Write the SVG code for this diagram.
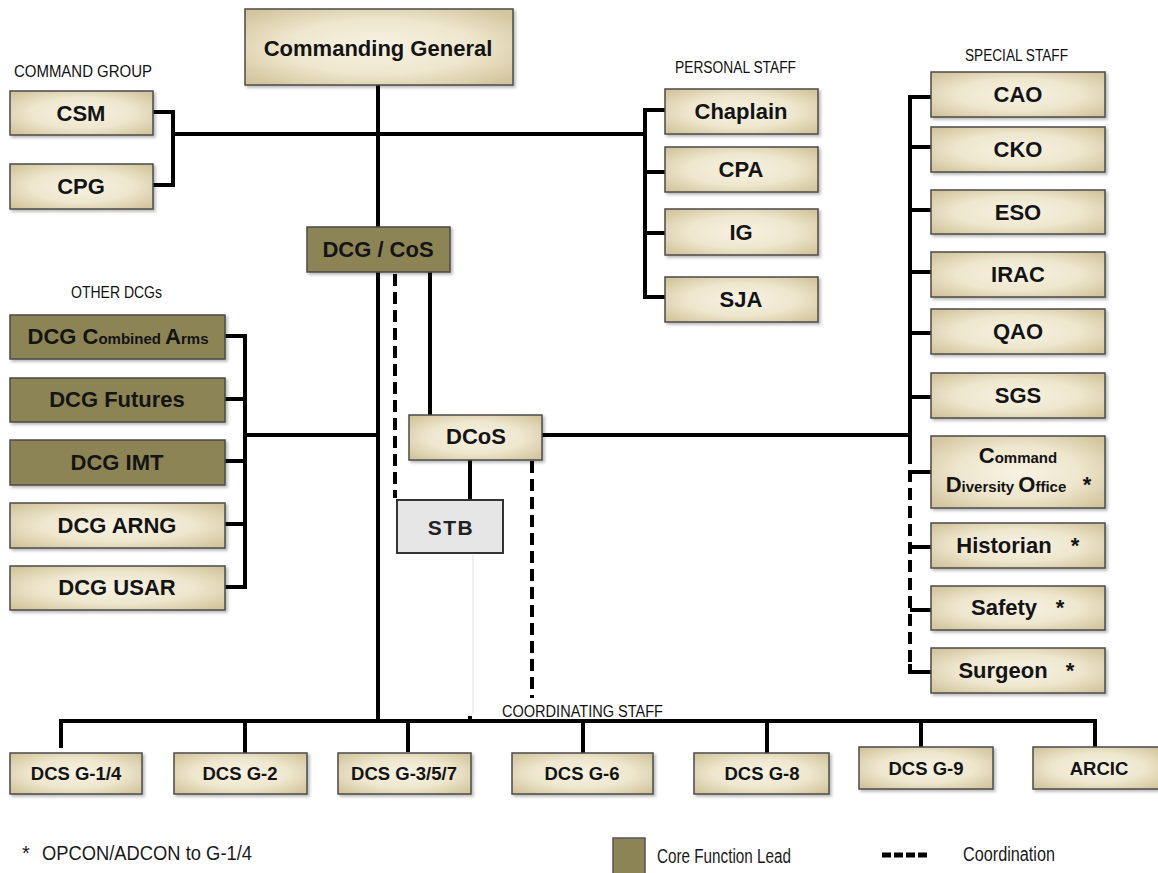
<svg xmlns="http://www.w3.org/2000/svg" width="1158" height="873" viewBox="0 0 1158 873">
<defs>
<radialGradient id="beige" cx="50%" cy="50%" r="65%">
<stop offset="0" stop-color="#f7f2e3"/>
<stop offset="0.55" stop-color="#eee6cd"/>
<stop offset="1" stop-color="#d3c59d"/>
</radialGradient>
<filter id="sh" x="-5%" y="-10%" width="115%" height="135%">
<feDropShadow dx="2" dy="2" stdDeviation="1.5" flood-color="#000" flood-opacity="0.28"/>
</filter>
<style>
.b{fill:url(#beige);stroke:#4a4a4a;stroke-width:1.5;filter:url(#sh)}
.o{fill:#8c8455;stroke:#4a4a4a;stroke-width:1.5;filter:url(#sh)}
.g{fill:#e6e6e6;stroke:#333;stroke-width:2}
.t{font-family:"Liberation Sans",Arial,sans-serif;font-weight:bold;font-size:22px;fill:#141414;text-anchor:middle}
.sm{font-size:15px}
.d{font-family:"Liberation Sans",Arial,sans-serif;font-weight:bold;font-size:18.5px;fill:#141414;text-anchor:middle}
.h{font-family:"Liberation Sans Narrow","Liberation Sans",Arial,sans-serif;font-size:16px;fill:#111}
.l{font-family:"Liberation Sans Narrow","Liberation Sans",Arial,sans-serif;font-size:20px;fill:#1a1a1a}
.c{fill:none;stroke:#000;stroke-width:4;stroke-linejoin:miter}
.dash{fill:none;stroke:#000;stroke-width:4;stroke-dasharray:12 6}
</style>
</defs>
<rect width="1158" height="873" fill="#fff"/>

<g id="labels">
<text class="h" x="14" y="77" textLength="138" lengthAdjust="spacingAndGlyphs">COMMAND GROUP</text>
<text class="h" x="675" y="73" textLength="121" lengthAdjust="spacingAndGlyphs">PERSONAL STAFF</text>
<text class="h" x="965" y="61" textLength="103" lengthAdjust="spacingAndGlyphs">SPECIAL STAFF</text>
<text class="h" x="71" y="298" textLength="91" lengthAdjust="spacingAndGlyphs">OTHER DCGs</text>
<text class="h" x="502" y="717" textLength="161" lengthAdjust="spacingAndGlyphs">COORDINATING STAFF</text>
</g>

<g id="connectors">
<path class="c" d="M378,85 V721"/>
<path class="c" d="M153,112 H173 V185 H153"/>
<path class="c" d="M173,134 H645"/>
<path class="c" d="M665,110 H645 V297 H665 M645,172 H665 M645,233 H665"/>
<path class="c" d="M931,97 H910 V452 M910,147 H931 M910,210 H931 M910,272 H931 M910,333 H931 M910,397 H931"/>
<path class="dash" d="M910,452 V664"/>
<path class="c" d="M910,664 V672 H931"/>
<path class="c" d="M910,472 H931 M910,547 H931 M910,610 H931"/>
<path class="c" d="M542,435 H910"/>
<path class="c" d="M245,435 H378"/>
<path class="c" d="M225,336 H245 V587 H225 M225,399 H245 M225,461 H245 M225,524 H245"/>
<path class="c" d="M430,272 V415"/>
<path class="dash" d="M395,274 V498"/>
<path class="c" d="M470,460 V500"/>
<path class="dash" d="M532,461 V698"/>
<path d="M473,555 V714" fill="none" stroke="#ececec" stroke-width="1.5"/>
<path class="c" d="M470,716 V721"/>
<path class="c" d="M61,748 V721 H1095 V748 M245,721 V758 M408,721 V752 M583,721 V753 M767,721 V753 M921,721 V747"/>
</g>

<g id="cg"><rect class="b" x="245" y="9" width="268" height="76"/><text class="t" x="378" y="56">Commanding General</text></g>
<g id="csm"><rect class="b" x="10" y="91" width="143" height="44"/><text class="t" x="81" y="121">CSM</text></g>
<g id="cpg"><rect class="b" x="10" y="164" width="143" height="45"/><text class="t" x="81" y="194">CPG</text></g>

<g id="chaplain"><rect class="b" x="665" y="89" width="153" height="45"/><text class="t" x="741" y="119">Chaplain</text></g>
<g id="cpa"><rect class="b" x="665" y="147" width="153" height="45"/><text class="t" x="741" y="177">CPA</text></g>
<g id="ig"><rect class="b" x="665" y="209" width="153" height="46"/><text class="t" x="741" y="240">IG</text></g>
<g id="sja"><rect class="b" x="665" y="277" width="153" height="45"/><text class="t" x="741" y="307">SJA</text></g>

<g id="cao"><rect class="b" x="931" y="72" width="174" height="45"/><text class="t" x="1018" y="102">CAO</text></g>
<g id="cko"><rect class="b" x="931" y="127" width="174" height="45"/><text class="t" x="1018" y="157">CKO</text></g>
<g id="eso"><rect class="b" x="931" y="190" width="174" height="44"/><text class="t" x="1018" y="220">ESO</text></g>
<g id="irac"><rect class="b" x="931" y="252" width="174" height="45"/><text class="t" x="1018" y="282">IRAC</text></g>
<g id="qao"><rect class="b" x="931" y="309" width="174" height="45"/><text class="t" x="1018" y="339">QAO</text></g>
<g id="sgs"><rect class="b" x="931" y="373" width="174" height="45"/><text class="t" x="1018" y="403">SGS</text></g>
<g id="cdo"><rect class="b" x="931" y="436" width="174" height="72"/>
<text class="t" x="1018" y="463">C<tspan class="sm">ommand</tspan></text>
<text class="t" x="1006" y="492">D<tspan class="sm">iversity </tspan>O<tspan class="sm">ffice</tspan></text>
<text class="t" x="1087" y="492">*</text></g>
<g id="historian"><rect class="b" x="931" y="523" width="174" height="45"/><text class="t" x="1004" y="553">Historian</text><text class="t" x="1075" y="553">*</text></g>
<g id="safety"><rect class="b" x="931" y="586" width="174" height="44"/><text class="t" x="1004" y="615">Safety</text><text class="t" x="1060" y="615">*</text></g>
<g id="surgeon"><rect class="b" x="931" y="648" width="174" height="45"/><text class="t" x="1003" y="678">Surgeon</text><text class="t" x="1070" y="678">*</text></g>

<g id="dcgcos"><rect class="o" x="307" y="227" width="143" height="45"/><text class="t" x="378" y="257">DCG / CoS</text></g>
<g id="dcos"><rect class="b" x="409" y="415" width="133" height="45"/><text class="t" x="476" y="444">DCoS</text></g>
<g id="stb"><rect class="g" x="397" y="500" width="106" height="53"/><text class="t" x="451" y="535" style="font-size:21px;letter-spacing:1.5px;fill:#222">STB</text></g>

<g id="dcg-ca"><rect class="o" x="10" y="315" width="215" height="44"/><text class="t" x="118" y="344">DCG C<tspan class="sm">ombined </tspan>A<tspan class="sm">rms</tspan></text></g>
<g id="dcg-futures"><rect class="o" x="10" y="378" width="215" height="44"/><text class="t" x="117" y="407">DCG Futures</text></g>
<g id="dcg-imt"><rect class="o" x="10" y="440" width="215" height="45"/><text class="t" x="117" y="470">DCG IMT</text></g>
<g id="dcg-arng"><rect class="b" x="10" y="503" width="215" height="45"/><text class="t" x="117" y="533">DCG ARNG</text></g>
<g id="dcg-usar"><rect class="b" x="10" y="566" width="215" height="44"/><text class="t" x="117" y="595">DCG USAR</text></g>

<g id="g14"><rect class="b" x="10" y="753" width="132" height="41"/><text class="d" x="76" y="780">DCS G-1/4</text></g>
<g id="g2"><rect class="b" x="174" y="753" width="133" height="41"/><text class="d" x="240" y="780">DCS G-2</text></g>
<g id="g357"><rect class="b" x="338" y="753" width="133" height="41"/><text class="d" x="404" y="780">DCS G-3/5/7</text></g>
<g id="g6"><rect class="b" x="512" y="753" width="141" height="41"/><text class="d" x="582" y="780">DCS G-6</text></g>
<g id="g8"><rect class="b" x="694" y="753" width="135" height="41"/><text class="d" x="762" y="780">DCS G-8</text></g>
<g id="g9"><rect class="b" x="859" y="747" width="134" height="42"/><text class="d" x="926" y="775">DCS G-9</text></g>
<g id="arcic"><rect class="b" x="1033" y="747" width="130" height="42"/><text class="d" x="1099" y="775">ARCIC</text></g>

<g id="legend">
<text class="l" x="22" y="860">*</text>
<text class="l" x="42" y="860" textLength="210" lengthAdjust="spacingAndGlyphs">OPCON/ADCON to G-1/4</text>
<rect x="613" y="838" width="32" height="36" fill="#8c8455" stroke="#555" stroke-width="1.5"/>
<text class="l" x="657" y="863" textLength="134" lengthAdjust="spacingAndGlyphs">Core Function Lead</text>
<path d="M882,855 H927" fill="none" stroke="#000" stroke-width="5" stroke-dasharray="9 3"/>
<text class="l" x="963" y="861" textLength="92" lengthAdjust="spacingAndGlyphs">Coordination</text>
</g>
</svg>
